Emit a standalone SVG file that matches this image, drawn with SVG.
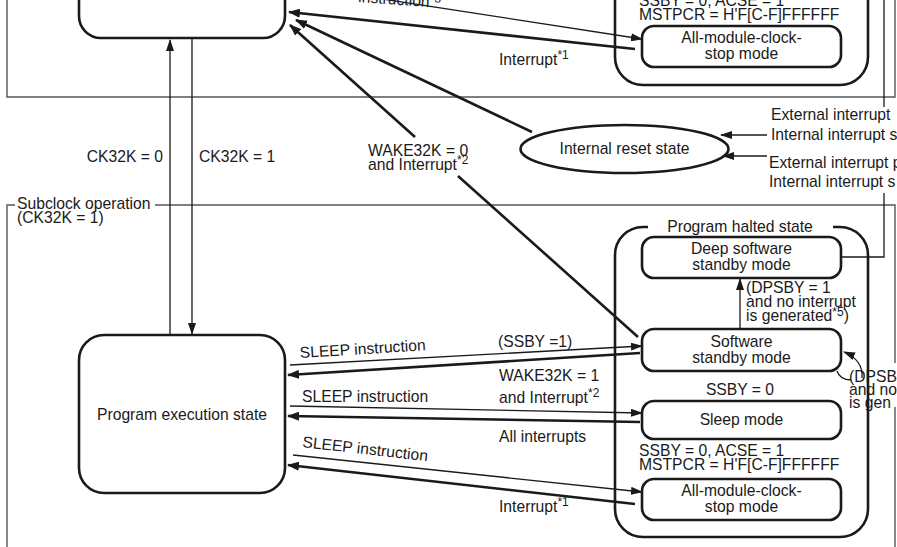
<svg xmlns="http://www.w3.org/2000/svg" width="897" height="547" viewBox="0 0 897 547">
<style>
text{font-family:"Liberation Sans",Arial,sans-serif;font-size:15.7px;fill:#1a1a1a}
.m{text-anchor:middle}
.e{text-anchor:end}
.sup{font-size:12px}
.box{fill:#fff;stroke:#1a1a1a;stroke-width:2.6}
.frame{fill:none;stroke:#555;stroke-width:1.4}
.thin{fill:none;stroke:#1a1a1a;stroke-width:1.3}
.thick{fill:none;stroke:#1a1a1a;stroke-width:2.6}
.ln{fill:none;stroke:#1a1a1a;stroke-width:1.3}
</style>
<defs>
<marker id="ah" viewBox="0 0 12 9" refX="11" refY="4.5" markerWidth="12" markerHeight="9" markerUnits="userSpaceOnUse" orient="auto"><path d="M0,0 L12,4.5 L0,9 z" fill="#1a1a1a"/></marker>
<marker id="ahs" viewBox="0 0 12 8" refX="11" refY="4" markerWidth="12" markerHeight="8" markerUnits="userSpaceOnUse" orient="auto"><path d="M0,0 L12,4 L0,8 z" fill="#1a1a1a"/></marker>
</defs>
<rect width="897" height="547" fill="#fff"/>

<g id="frames">
<path class="frame" d="M7,0 V97 H895 V0"/>
<path class="frame" d="M15,205 H7 V547 M155,205 H895 V363 M895,407 V547"/>
<text x="17" y="209">Subclock operation</text>
<text x="17" y="223">(CK32K = 1)</text>
</g>

<g id="top-exec">
<rect class="box" x="79" y="-60" width="206" height="98" rx="22"/>
</g>

<g id="top-halted">
<rect class="box" x="615" y="-60" width="253" height="145" rx="28"/>
<text x="639" y="6">SSBY = 0, ACSE = 1</text>
<text x="639" y="20">MSTPCR = H'F[C-F]FFFFFF</text>
</g>
<g id="top-amcs">
<rect class="box" x="642" y="26" width="199" height="41" rx="12"/>
<text class="m" x="741.5" y="43">All-module-clock-</text>
<text class="m" x="741.5" y="59">stop mode</text>
</g>

<g id="reset">
<ellipse class="box" cx="624.5" cy="149" rx="104" ry="24"/>
<text class="m" x="624.5" y="154">Internal reset state</text>
</g>

<g id="exec">
<rect class="box" x="79" y="335" width="206" height="158" rx="25"/>
<text class="m" x="182" y="420">Program execution state</text>
</g>

<g id="halted">
<path class="box" d="M648,227 H643 A28,28 0 0 0 615,255 V509 A28,28 0 0 0 643,537 H840 A28,28 0 0 0 868,509 V255 A28,28 0 0 0 840,227 H833" style="fill:none"/>
<text class="m" x="740" y="232">Program halted state</text>
</g>

<g id="deep">
<rect class="box" x="642" y="237" width="199" height="41" rx="12"/>
<text class="m" x="741.5" y="254">Deep software</text>
<text class="m" x="741.5" y="270">standby mode</text>
</g>

<g id="sstby">
<rect class="box" x="642" y="329" width="199" height="42" rx="12"/>
<text class="m" x="741.5" y="347">Software</text>
<text class="m" x="741.5" y="363">standby mode</text>
</g>

<g id="sleep">
<rect class="box" x="642" y="401" width="199" height="38" rx="12"/>
<text class="m" x="741.5" y="425">Sleep mode</text>
</g>

<g id="amcs">
<rect class="box" x="642" y="479" width="199" height="41" rx="12"/>
<text class="m" x="741.5" y="496">All-module-clock-</text>
<text class="m" x="741.5" y="512">stop mode</text>
</g>

<g id="connectors">
<line class="thin" x1="285" y1="-16" x2="642" y2="39" marker-end="url(#ahs)"/>
<line class="thick" x1="635" y1="49" x2="289" y2="12" marker-end="url(#ah)"/>
<line class="thick" x1="532" y1="132" x2="296" y2="20" marker-end="url(#ah)"/>
<line class="thick" x1="638" y1="337" x2="458" y2="176"/>
<line class="thick" x1="415" y1="137" x2="290" y2="25" marker-end="url(#ah)"/>
<line class="thin" x1="170" y1="335" x2="170" y2="40" marker-end="url(#ahs)"/>
<line class="thin" x1="192" y1="38" x2="192" y2="334" marker-end="url(#ahs)"/>
<line class="thin" x1="767" y1="135" x2="721" y2="135" marker-end="url(#ahs)"/>
<line class="thin" x1="767" y1="156" x2="723" y2="156" marker-end="url(#ahs)"/>
<path class="ln" d="M884,0 V107"/>
<path class="ln" d="M842,257 H884 V193"/>
<line class="thin" x1="740" y1="329" x2="740" y2="279" marker-end="url(#ahs)"/>
<path class="thin" d="M862,378 C863,365 856,357 844,352" marker-end="url(#ahs)"/>
<path class="thin" d="M837,371 C839,377 844,380 851,380"/>
<line class="thin" x1="290" y1="365" x2="642" y2="346" marker-end="url(#ahs)"/>
<line class="thick" x1="640" y1="353" x2="288" y2="375" marker-end="url(#ah)"/>
<line class="thin" x1="290" y1="406" x2="642" y2="413" marker-end="url(#ahs)"/>
<line class="thick" x1="640" y1="422" x2="288" y2="416" marker-end="url(#ah)"/>
<line class="thin" x1="293" y1="455" x2="642" y2="492" marker-end="url(#ahs)"/>
<line class="thick" x1="635" y1="504" x2="288" y2="465" marker-end="url(#ah)"/>
</g>

<g id="labels">
<text x="358" y="2" transform="rotate(4 358 2)">instruction<tspan class="sup" dy="-5">*3</tspan></text>
<text x="499" y="65">Interrupt<tspan class="sup" dy="-6">*1</tspan></text>
<text class="e" x="163" y="162">CK32K = 0</text>
<text x="199" y="162">CK32K = 1</text>
<text x="368" y="156">WAKE32K = 0</text>
<text x="368" y="170">and Interrupt<tspan class="sup" dy="-6">*2</tspan></text>
<text x="771" y="120">External interrupt</text>
<text x="771" y="140">Internal interrupt s</text>
<text x="769" y="168">External interrupt p</text>
<text x="769" y="187">Internal interrupt s</text>
<text x="746" y="293">(DPSBY = 1</text>
<text x="746" y="307">and no interrupt</text>
<text x="746" y="321">is generated<tspan class="sup" dy="-5">*5</tspan><tspan dy="5">)</tspan></text>
<text x="849" y="382">(DPSB</text>
<text x="849" y="395">and no</text>
<text x="849" y="408">is gen</text>
<text x="740" y="395" class="m">SSBY = 0</text>
<text x="639" y="456">SSBY = 0, ACSE = 1</text>
<text x="639" y="470">MSTPCR = H'F[C-F]FFFFFF</text>
<text x="300" y="358" transform="rotate(-3.5 300 358)">SLEEP instruction</text>
<text x="302" y="402">SLEEP instruction</text>
<text x="302" y="447" transform="rotate(6.5 302 447)">SLEEP instruction</text>
<text x="498" y="347">(SSBY =1)</text>
<text x="499" y="381">WAKE32K = 1</text>
<text x="499" y="403">and Interrupt<tspan class="sup" dy="-6">*2</tspan></text>
<text x="499" y="442">All interrupts</text>
<text x="499" y="512">Interrupt<tspan class="sup" dy="-6">*1</tspan></text>
</g>
</svg>
